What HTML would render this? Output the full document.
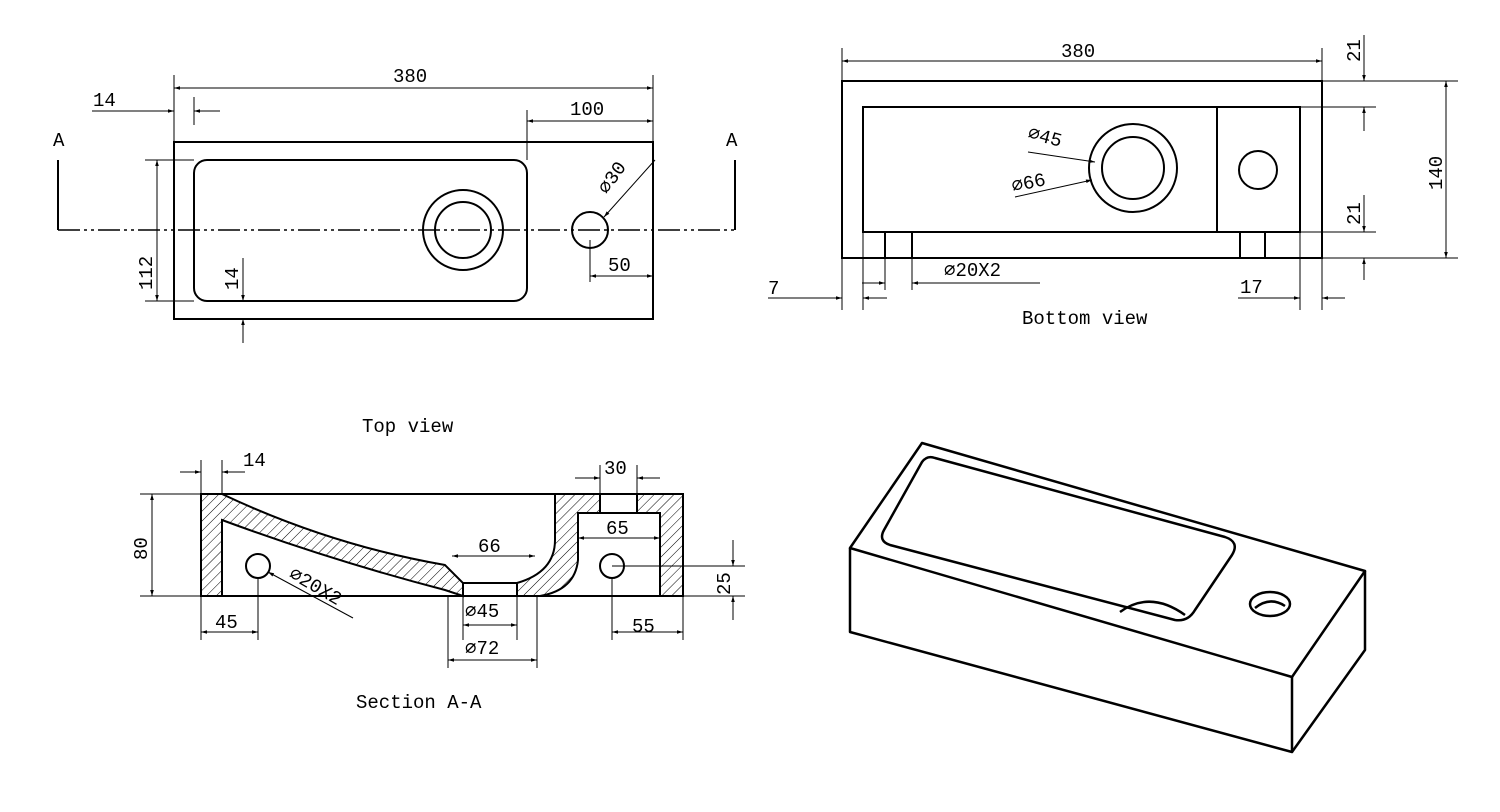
<!DOCTYPE html>
<html><head><meta charset="utf-8"><style>
html,body{margin:0;padding:0;background:#fff;}
svg{display:block;}
text{font-family:"Liberation Mono",monospace;font-size:19px;fill:#000;}
</style></head><body>
<svg width="1500" height="812" viewBox="0 0 1500 812" xmlns="http://www.w3.org/2000/svg">
<defs>
<pattern id="h" patternUnits="userSpaceOnUse" width="7" height="7" patternTransform="rotate(45)">
<line x1="0" y1="0" x2="0" y2="7" stroke="#000" stroke-width="1"/>
</pattern>
<marker id="a" viewBox="0 0 10 10" refX="10" refY="5" markerWidth="10" markerHeight="6" orient="auto-start-reverse" markerUnits="userSpaceOnUse">
<path d="M0,2 L10,5 L0,8z" fill="#000"/>
</marker>
</defs>
<g fill="none" stroke="#000" stroke-width="1">
<!-- TOP VIEW -->
<rect x="174" y="142" width="479" height="177" stroke-width="2"/>
<rect x="194" y="160" width="333" height="141" rx="13" stroke-width="2"/>
<circle cx="463" cy="230" r="40" stroke-width="2"/>
<circle cx="463" cy="230" r="28" stroke-width="2"/>
<circle cx="590" cy="230" r="18" stroke-width="2"/>
<line x1="58" y1="230" x2="735" y2="230" stroke-dasharray="22,4,3,4,3,4" stroke-width="1.5"/>
<polyline points="58,160 58,230" stroke-width="2"/>
<polyline points="735,160 735,230" stroke-width="2"/>
<line x1="174" y1="75" x2="174" y2="142"/><line x1="653" y1="75" x2="653" y2="142"/>
<line x1="174" y1="88" x2="653" y2="88" marker-start="url(#a)" marker-end="url(#a)"/>
<line x1="194" y1="97" x2="194" y2="125"/>
<line x1="92" y1="111" x2="174" y2="111" marker-end="url(#a)"/>
<line x1="194" y1="111" x2="220" y2="111" marker-start="url(#a)"/>
<line x1="527" y1="110" x2="527" y2="160"/>
<line x1="527" y1="121" x2="653" y2="121" marker-start="url(#a)" marker-end="url(#a)"/>
<line x1="655" y1="160" x2="604" y2="217" marker-end="url(#a)"/>
<line x1="590" y1="240" x2="590" y2="282"/>
<line x1="590" y1="276" x2="653" y2="276" marker-start="url(#a)" marker-end="url(#a)"/>
<line x1="145" y1="160" x2="194" y2="160"/><line x1="145" y1="301" x2="194" y2="301"/>
<line x1="157" y1="160" x2="157" y2="301" marker-start="url(#a)" marker-end="url(#a)"/>
<line x1="243" y1="258" x2="243" y2="301" marker-end="url(#a)"/>
<line x1="243" y1="343" x2="243" y2="319" marker-end="url(#a)"/>
<!-- BOTTOM VIEW -->
<rect x="842" y="81" width="480" height="177" stroke-width="2"/>
<rect x="863" y="107" width="437" height="125" stroke-width="2"/>
<line x1="1217" y1="107" x2="1217" y2="232" stroke-width="2"/>
<rect x="885" y="232" width="27" height="26" stroke-width="2"/>
<rect x="1240" y="232" width="25" height="26" stroke-width="2"/>
<circle cx="1133" cy="168" r="44" stroke-width="2"/>
<circle cx="1133" cy="168" r="31" stroke-width="2"/>
<circle cx="1258" cy="170" r="19" stroke-width="2"/>
<line x1="842" y1="48" x2="842" y2="81"/><line x1="1322" y1="48" x2="1322" y2="81"/>
<line x1="842" y1="61" x2="1322" y2="61" marker-start="url(#a)" marker-end="url(#a)"/>
<line x1="1322" y1="81" x2="1458" y2="81"/><line x1="1322" y1="258" x2="1458" y2="258"/>
<line x1="1446" y1="81" x2="1446" y2="258" marker-start="url(#a)" marker-end="url(#a)"/>
<line x1="1300" y1="107" x2="1376" y2="107"/><line x1="1300" y1="232" x2="1376" y2="232"/>
<line x1="1364" y1="35" x2="1364" y2="81" marker-end="url(#a)"/>
<line x1="1364" y1="131" x2="1364" y2="107" marker-end="url(#a)"/>
<line x1="1364" y1="195" x2="1364" y2="232" marker-end="url(#a)"/>
<line x1="1364" y1="280" x2="1364" y2="258" marker-end="url(#a)"/>
<line x1="842" y1="258" x2="842" y2="310"/><line x1="863" y1="232" x2="863" y2="310"/>
<line x1="885" y1="258" x2="885" y2="290"/><line x1="912" y1="258" x2="912" y2="290"/>
<line x1="768" y1="298" x2="842" y2="298" marker-end="url(#a)"/>
<line x1="887" y1="298" x2="863" y2="298" marker-end="url(#a)"/>
<line x1="862" y1="283" x2="885" y2="283" marker-end="url(#a)"/>
<line x1="1040" y1="283" x2="912" y2="283" marker-end="url(#a)"/>
<line x1="1300" y1="232" x2="1300" y2="310"/><line x1="1322" y1="258" x2="1322" y2="310"/>
<line x1="1238" y1="298" x2="1300" y2="298" marker-end="url(#a)"/>
<line x1="1345" y1="298" x2="1322" y2="298" marker-end="url(#a)"/>
<line x1="1028" y1="152" x2="1095" y2="162" marker-end="url(#a)"/>
<line x1="1015" y1="197" x2="1092" y2="180" marker-end="url(#a)"/>
<!-- SECTION -->
<path d="M201,494 L222,494 Q330,545 445,565 L463,583 L463,596 L445,590 Q330,560 222,520 L222,596 L201,596 Z" fill="url(#h)" stroke-width="2"/>
<path d="M555,494 L600,494 L600,513 L578,513 L578,560 Q575,590 540,596 L517,596 L517,583 Q555,572 555,540 Z" fill="url(#h)" stroke-width="2"/>
<path d="M637,494 L683,494 L683,596 L660,596 L660,513 L637,513 Z" fill="url(#h)" stroke-width="2"/>
<rect x="201" y="494" width="482" height="102" stroke-width="2"/>
<line x1="463" y1="583" x2="517" y2="583" stroke-width="2"/>
<line x1="578" y1="513" x2="660" y2="513" stroke-width="2"/>
<circle cx="258" cy="566" r="12" stroke-width="2"/>
<circle cx="612" cy="566" r="12" stroke-width="2"/>
<line x1="180" y1="472" x2="201" y2="472" marker-end="url(#a)"/>
<line x1="245" y1="472" x2="222" y2="472" marker-end="url(#a)"/>
<line x1="201" y1="460" x2="201" y2="494"/><line x1="222" y1="460" x2="222" y2="494"/>
<line x1="575" y1="478" x2="600" y2="478" marker-end="url(#a)"/>
<line x1="660" y1="478" x2="637" y2="478" marker-end="url(#a)"/>
<line x1="600" y1="465" x2="600" y2="494"/><line x1="637" y1="465" x2="637" y2="494"/>
<line x1="140" y1="494" x2="201" y2="494"/><line x1="140" y1="596" x2="201" y2="596"/>
<line x1="152" y1="494" x2="152" y2="596" marker-start="url(#a)" marker-end="url(#a)"/>
<line x1="578" y1="538" x2="660" y2="538" marker-start="url(#a)" marker-end="url(#a)"/>
<line x1="452" y1="556" x2="535" y2="556" marker-start="url(#a)" marker-end="url(#a)"/>
<line x1="612" y1="566" x2="745" y2="566"/><line x1="683" y1="596" x2="745" y2="596"/>
<line x1="733" y1="540" x2="733" y2="566" marker-end="url(#a)"/>
<line x1="733" y1="620" x2="733" y2="596" marker-end="url(#a)"/>
<line x1="201" y1="596" x2="201" y2="640"/><line x1="258" y1="578" x2="258" y2="640"/>
<line x1="201" y1="632" x2="258" y2="632" marker-start="url(#a)" marker-end="url(#a)"/>
<line x1="612" y1="578" x2="612" y2="640"/><line x1="683" y1="596" x2="683" y2="640"/>
<line x1="612" y1="632" x2="683" y2="632" marker-start="url(#a)" marker-end="url(#a)"/>
<line x1="353" y1="618" x2="268" y2="572" marker-end="url(#a)"/>
<line x1="448" y1="596" x2="448" y2="668"/><line x1="537" y1="596" x2="537" y2="668"/>
<line x1="463" y1="596" x2="463" y2="640"/><line x1="517" y1="596" x2="517" y2="640"/>
<line x1="463" y1="625" x2="517" y2="625" marker-start="url(#a)" marker-end="url(#a)"/>
<line x1="448" y1="660" x2="537" y2="660" marker-start="url(#a)" marker-end="url(#a)"/>
<!-- ISO -->
<g stroke-width="2.5" stroke-linejoin="round">
<polygon points="850,548 922,443 1365,571 1292,677"/>
<polyline points="850,548 850,632 1292,752 1292,677"/>
<polyline points="1292,752 1365,650 1365,571"/>
<path d="M935,458 L1225,537 Q1240,542 1232,555 L1195,610 Q1188,622 1175,620 L890,545 Q878,541 884,530 L922,462 Q927,455 935,458 Z"/>
<path d="M1120,612 Q1150,590 1185,615"/>
<ellipse cx="1270" cy="604" rx="20" ry="12"/>
<path d="M1255,608 Q1270,596 1285,606"/>
</g>
</g>
<text x="53" y="146" font-size="15">A</text>
<text x="726" y="146" font-size="15">A</text>
<text x="393" y="82">380</text>
<text x="93" y="106">14</text>
<text x="570" y="115">100</text>
<text x="0" y="0" transform="translate(607,195) rotate(-55)">∅30</text>
<text x="608" y="271">50</text>
<text x="0" y="0" transform="translate(152,290) rotate(-90)">112</text>
<text x="0" y="0" transform="translate(238,290) rotate(-90)">14</text>
<text x="362" y="432">Top view</text>
<text x="1061" y="57">380</text>
<text x="0" y="0" transform="translate(1360,62) rotate(-90)">21</text>
<text x="0" y="0" transform="translate(1360,225) rotate(-90)">21</text>
<text x="0" y="0" transform="translate(1442,190) rotate(-90)">140</text>
<text x="0" y="0" transform="translate(1027,138) rotate(15)">∅45</text>
<text x="0" y="0" transform="translate(1013,192) rotate(-12)">∅66</text>
<text x="944" y="276">∅20X2</text>
<text x="768" y="294">7</text>
<text x="1240" y="293">17</text>
<text x="1022" y="324">Bottom view</text>
<text x="243" y="466">14</text>
<text x="604" y="474">30</text>
<text x="0" y="0" transform="translate(147,560) rotate(-90)">80</text>
<text x="606" y="534">65</text>
<text x="478" y="552">66</text>
<text x="0" y="0" transform="translate(730,595) rotate(-90)">25</text>
<text x="215" y="628">45</text>
<text x="632" y="632">55</text>
<text x="0" y="0" transform="translate(288,577) rotate(30)">∅20X2</text>
<text x="465" y="617">∅45</text>
<text x="465" y="654">∅72</text>
<text x="356" y="708">Section A-A</text>
</svg>
</body></html>
